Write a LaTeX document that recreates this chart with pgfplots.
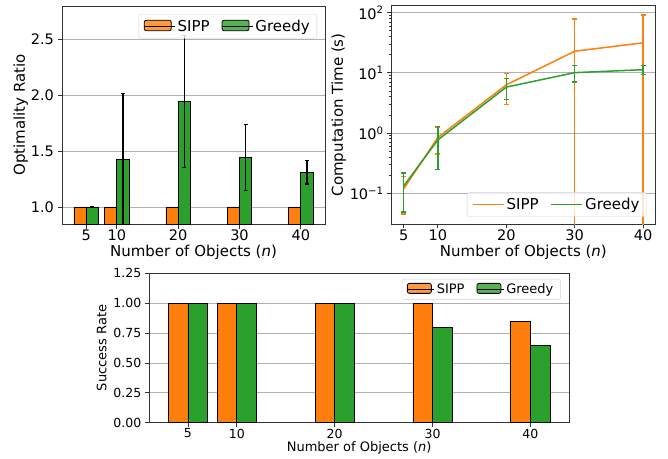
\documentclass[border=0pt]{standalone}
\usepackage{fontspec}
\setmainfont{DejaVu Sans}
\usepackage{pgfplots}
\pgfplotsset{compat=1.18}

\definecolor{sipp}{HTML}{FF7F0E}
\definecolor{greedy}{HTML}{2CA02C}
\definecolor{gridgray}{HTML}{B0B0B0}

\newcommand\fbig{\fontsize{15}{18}\selectfont}
\newcommand\ftbig{\fontsize{14.5}{17}\selectfont}
\newcommand\fsmall{\fontsize{13}{15.5}\selectfont}
\newcommand\ftsmall{\fontsize{12.5}{15}\selectfont}

\pgfplotsset{
  mpl/.style={
    scale only axis,
    axis line style={line width=0.8pt, black!80},
    tick align=outside,
    xtick pos=bottom, ytick pos=left,
    major tick length=4.5pt,
    minor tick length=2.5pt,
    every tick/.style={line width=0.8pt, black!80},
    ymajorgrids,
    grid style={gridgray, line width=0.8pt},
    /pgf/number format/assume math mode=true,
    xticklabel style={yshift=2pt},
    xlabel style={yshift=3pt},
    legend cell align=left,
    legend style={draw=gray!35, rounded corners=2pt, fill=white,
      fill opacity=0.8, text opacity=1, legend columns=2,
      inner xsep=5pt, inner ysep=3.5pt,
      /tikz/every even column/.append style={column sep=10pt}},
    xtick={5,10,20,30,40},
  },
  barleg/.style={area legend, legend image code/.code={
      \draw[##1, draw=black, line width=0.8pt] (0pt,-4.5pt) rectangle (27pt,6pt);
      \path (0pt,0pt) -- (31pt,0pt);}},
}

\begin{document}
\begin{tikzpicture}
\useasboundingbox (0,0) rectangle (668pt,458pt);

% top left: optimality ratio
\begin{axis}[mpl,
  at={(62pt,234pt)}, anchor=south west,
  width=263pt, height=218pt,
  xmin=1.05, xmax=43.95, ymin=0.848, ymax=2.797,
  ytick={1.0,1.5,2.0,2.5},
  yticklabel style={/pgf/number format/.cd, fixed, fixed zerofill, precision=1},
  tick label style={font=\ftbig},
  label style={font=\fbig},
  ylabel style={yshift=-4pt},
  xlabel={Number of Objects (\textit{n})},
  ylabel={Optimality Ratio},
  legend style={font=\fbig, nodes={font=\fbig}, at={(0.9696,0.963)}, anchor=north east},
]
\addplot[ybar, bar width=2, bar shift=-1, fill=sipp, draw=black,
  line width=0.8pt, barleg]
  coordinates {(5,1) (10,1) (20,1) (30,1) (40,1)};
\addlegendentry{SIPP}
\addplot[ybar, bar width=2, bar shift=1, fill=greedy, draw=black,
  line width=0.8pt, barleg]
  coordinates {(5,1.0) (10,1.425) (20,1.945) (30,1.44) (40,1.31)};
\addlegendentry{Greedy}
% Greedy error bars, at the centres of the Greedy bars
\addplot[draw=none, mark=none, forget plot,
  error bars/.cd, y dir=both, y explicit,
  error bar style={draw=black, line width=1.4pt},
  error mark options={rotate=90, draw=black, mark size=2pt, line width=1.4pt}]
  coordinates {
    (6,1.0) +- (0,0.004)
    (11,1.425) +- (0,0.59)
    (21,1.945) +- (0,0.59)
    (31,1.44) +- (0,0.295)
    (41,1.31) +- (0,0.105)
  };
\end{axis}

% top right: computation time
\begin{axis}[mpl,
  at={(391.7pt,234pt)}, anchor=south west,
  width=263.3pt, height=218.3pt,
  ymode=log,
  xmin=3.25, xmax=41.75, ymin=0.0308, ymax=130.9,
  ytick={0.1,1,10,100},
  yticklabels={10\textsuperscript{−1},10\textsuperscript{0},10\textsuperscript{1},10\textsuperscript{2}},
  tick label style={font=\ftbig},
  label style={font=\fbig},
  ylabel style={yshift=-3pt},
  xlabel={Number of Objects (\textit{n})},
  ylabel={Computation Time (s)},
  legend style={font=\fbig, nodes={font=\fbig}, at={(0.9685,0.0334)}, anchor=south east},
]
\addplot[sipp, line width=1.5pt, mark=none,
  legend image code/.code={\draw[sipp, line width=1.6pt] (0pt,0pt) -- (27pt,0pt);
    \path (0pt,0pt) -- (31pt,0pt);},
  error bars/.cd, y dir=both, y explicit,
  error bar style={sipp, line width=1.5pt},
  error mark options={rotate=90, sipp, mark size=2.5pt, line width=1.5pt}]
  coordinates {
    (5,0.118) += (0,0.073) -= (0,0.073)
    (10,0.845) += (0,0.40) -= (0,0.40)
    (20,6.33) += (0,3.37) -= (0,3.37)
    (30,22.9) += (0,56.5) -= (0,22.89)
    (40,31.6) += (0,59.6) -= (0,31.59)
  };
\addlegendentry{SIPP}
\addplot[greedy, line width=1.5pt, mark=none,
  legend image code/.code={\draw[greedy, line width=1.6pt] (0pt,0pt) -- (27pt,0pt);
    \path (0pt,0pt) -- (31pt,0pt);},
  error bars/.cd, y dir=both, y explicit,
  error bar style={greedy, line width=1.5pt},
  error mark options={rotate=90, greedy, mark size=2.5pt, line width=1.5pt}]
  coordinates {
    (5,0.132) += (0,0.083) -= (0,0.083)
    (10,0.77) += (0,0.52) -= (0,0.52)
    (20,5.8) += (0,2.22) -= (0,2.22)
    (30,10.1) += (0,3.1) -= (0,3.1)
    (40,11.3) += (0,1.9) -= (0,1.9)
  };
\addlegendentry{Greedy}
\end{axis}

% bottom: success rate
\begin{axis}[mpl,
  at={(149.3pt,35.3pt)}, anchor=south west,
  width=419.7pt, height=149.4pt,
  xmin=1.05, xmax=43.95, ymin=0, ymax=1.25,
  ytick={0,0.25,0.5,0.75,1.0,1.25},
  yticklabel style={/pgf/number format/.cd, fixed, fixed zerofill, precision=2},
  tick label style={font=\ftsmall},
  label style={font=\fsmall},
  xlabel={Number of Objects (\textit{n})},
  ylabel={Success Rate},
  legend style={font=\fsmall, nodes={font=\fsmall}, at={(0.980,0.962)}, anchor=north east,
    inner ysep=2.5pt},
  barleg/.style={area legend, legend image code/.code={
      \draw[##1, draw=black, line width=0.8pt] (0pt,-4pt) rectangle (24pt,6pt);
      \path (0pt,0pt) -- (27pt,0pt);}},
]
\addplot[ybar, bar width=2, bar shift=-1, fill=sipp, draw=black,
  line width=0.8pt, barleg]
  coordinates {(5,1) (10,1) (20,1) (30,1) (40,0.85)};
\addlegendentry{SIPP}
\addplot[ybar, bar width=2, bar shift=1, fill=greedy, draw=black,
  line width=0.8pt, barleg]
  coordinates {(5,1) (10,1) (20,1) (30,0.80) (40,0.65)};
\addlegendentry{Greedy}
\end{axis}
\end{tikzpicture}
\end{document}
